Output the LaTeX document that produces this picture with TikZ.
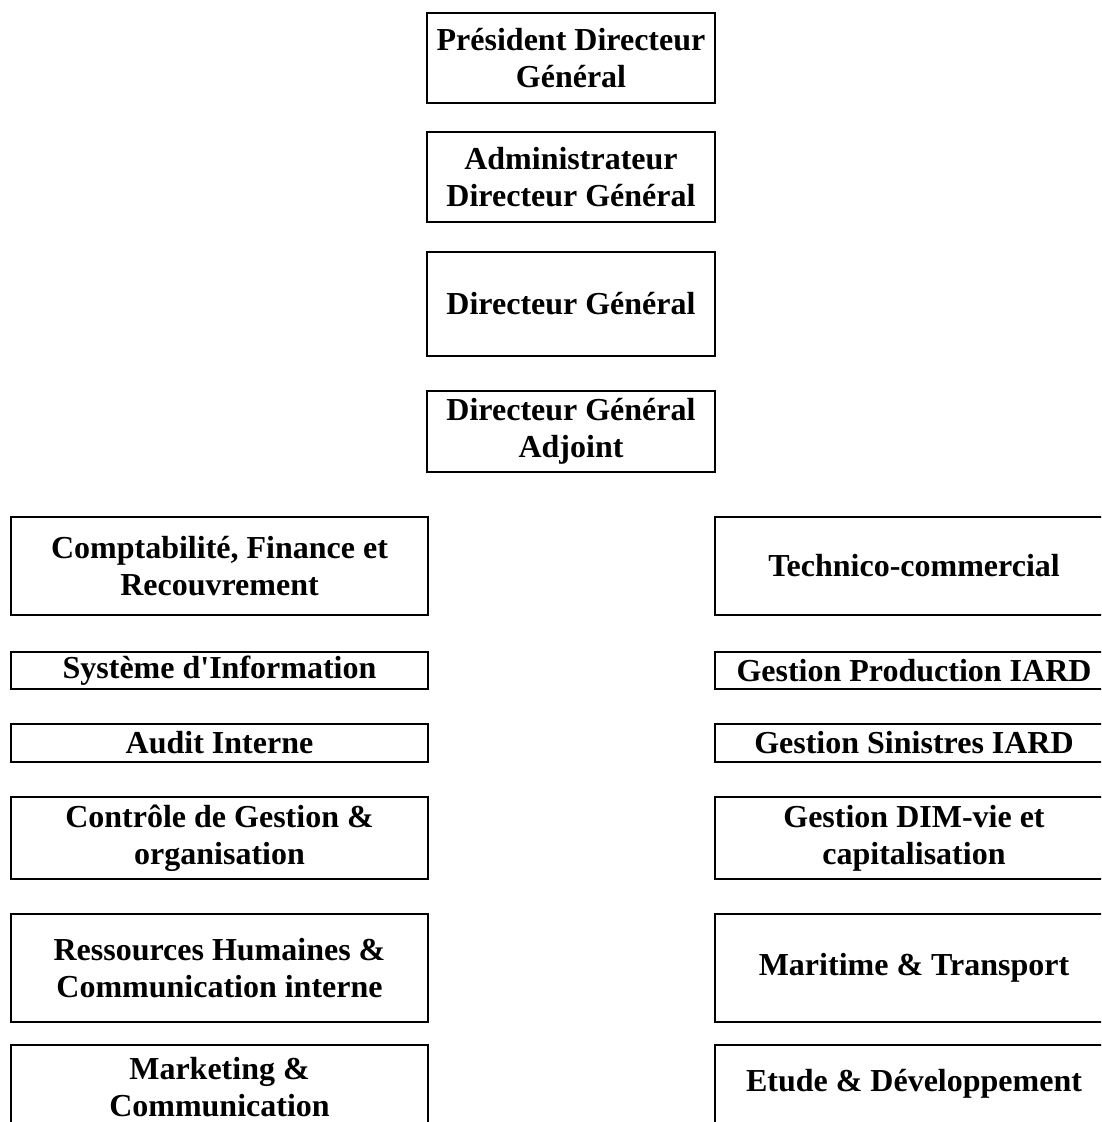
\documentclass[tikz,border=0pt]{standalone}
\usepackage{fontspec}
\setmainfont{Liberation Serif}
\font\rawapos="Liberation Serif/B" at 32pt
\newcommand{\sq}{{\rawapos\char39}}
\begin{document}
\begin{tikzpicture}[x=1pt,y=-1pt,
  txt/.style={inner sep=0pt, align=center, font=\bfseries\fontsize{32}{37}\selectfont},
  box/.style={txt, draw, line width=2.6pt, rectangle}]
\useasboundingbox (0,0) rectangle (1101,1122);
\clip (0,0) rectangle (1101,1122);
% top column
\node[box, minimum width=288pt, minimum height=90pt] (pdg) at (571,58) {Président Directeur\\Général};
\node[box, minimum width=288pt, minimum height=90pt] (adg) at (571,177) {Administrateur\\Directeur Général};
\node[box, minimum width=288pt, minimum height=104pt] (dg) at (571,304) {Directeur Général};
\node[box, minimum width=288pt, minimum height=81pt] (dga) at (571,431.5) {Directeur Général\\Adjoint};
% left column
\node[box, minimum width=417pt, minimum height=98pt] (cfr) at (219.5,566) {Comptabilité, Finance et\\Recouvrement};
\node[box, minimum width=417pt, minimum height=37pt] (si) at (219.5,670.5) {Système d\sq Information};
\node[box, minimum width=417pt, minimum height=38pt] (ai) at (219.5,743) {Audit Interne};
\node[box, minimum width=417pt, minimum height=82pt] (cg) at (219.5,838) {Contrôle de Gestion \&\\organisation};
\node[box, minimum width=417pt, minimum height=108pt] (rh) at (219.5,968) {Ressources Humaines \&\\Communication interne};
\node[box, minimum width=417pt, minimum height=155pt] (mcbox) at (219.5,1122.5) {};
\node[txt] (mc) at (219.5,1087) {Marketing \&\\Communication};
% right column
\node[box, minimum width=398pt, minimum height=98pt] (tc) at (914,566) {Technico-commercial};
\node[box, minimum width=398pt, minimum height=37pt] (gp) at (914,670.5) {Gestion Production IARD};
\node[box, minimum width=398pt, minimum height=38pt] (gs) at (914,743) {Gestion Sinistres IARD};
\node[box, minimum width=398pt, minimum height=82pt] (gd) at (914,838) {Gestion DIM-vie et\\capitalisation};
\node[box, minimum width=398pt, minimum height=108pt] (mt) at (914,968) {Maritime \& Transport};
\node[box, minimum width=398pt, minimum height=155pt] (edbox) at (914,1122.5) {};
\node[txt] (ed) at (914,1084) {Etude \& Développement};
\end{tikzpicture}
\end{document}
